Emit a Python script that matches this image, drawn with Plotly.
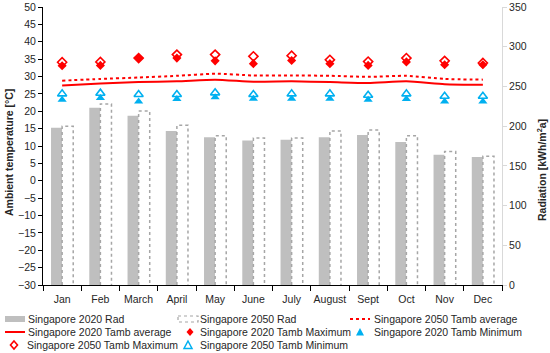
import plotly.graph_objects as go

months = ["Jan", "Feb", "March", "April", "May", "June", "July", "August", "Sept", "Oct", "Nov", "Dec"]
rad_2020 = [198, 223, 213, 194, 186, 182, 183, 186, 189, 180, 164, 161]
rad_2050 = [200, 228, 219, 201, 188, 185, 185, 194, 195, 188, 168, 162]
tavg_2020 = [27.4, 28.0, 28.4, 28.6, 29.1, 28.5, 28.6, 28.4, 28.1, 28.6, 27.8, 27.6]
tavg_2050 = [28.8, 29.3, 29.7, 30.2, 30.8, 30.3, 30.3, 30.2, 29.9, 30.2, 29.3, 29.1]
tmax_2020 = [33.1, 33.2, 35.3, 35.3, 34.5, 33.7, 34.6, 33.7, 33.2, 34.2, 33.4, 33.4]
tmax_2050 = [34.1, 34.2, 35.3, 36.3, 36.3, 35.8, 36.0, 34.8, 34.3, 35.3, 34.5, 33.9]
tmin_2020 = [23.3, 23.8, 22.8, 23.5, 24.0, 23.6, 23.6, 23.6, 23.3, 23.5, 22.8, 22.8]
tmin_2050 = [25.0, 25.2, 24.8, 24.8, 25.3, 24.8, 25.0, 25.0, 24.6, 25.0, 24.3, 24.3]

RED = "#ff0000"
BLUE = "#00b0f0"
GRAY = "#bfbfbf"
DOTGRAY = "#a6a6a6"
TXT = "#262626"
FONT = "Liberation Sans"
FS = 10.5

# plot-area geometry in pixels
L, R, T, B = 43, 502, 7, 285
W, H = R - L, B - T
FIG_W, FIG_H = 550, 353


def pxx(x):
    return (x - L) / W


def pxy(y):
    return (B - y) / H


xs = list(range(len(months)))
bw = 0.29

fig = go.Figure()

# Radiation bars (on radiation axis 'y', right side)
fig.add_trace(go.Bar(x=xs, y=rad_2020, width=bw, offset=-bw, marker=dict(color=GRAY, line=dict(width=0)),
                     name="Singapore 2020 Rad", showlegend=False, yaxis="y"))
fig.add_trace(go.Bar(x=xs, y=rad_2050, width=bw, offset=0, marker=dict(color="white", line=dict(width=0)),
                     name="Singapore 2050 Rad", showlegend=False, yaxis="y"))

# dotted outline of 2050 bars, derived from data
ox, oy = [], []
for i, v in zip(xs, rad_2050):
    ox += [i, i, i + bw, i + bw, None]
    oy += [0, v, v, 0, None]
fig.add_trace(go.Scatter(x=ox, y=oy, mode="lines", line=dict(color=DOTGRAY, width=1.5, dash="dot"),
                         showlegend=False, hoverinfo="skip", yaxis="y"))

# temperature series (on 'y2', left side)
fig.add_trace(go.Scatter(x=xs, y=tavg_2050, mode="lines", line=dict(color=RED, width=2, dash="dot", shape="spline", smoothing=0.6),
                         name="Singapore 2050 Tamb average", showlegend=False, yaxis="y2"))
fig.add_trace(go.Scatter(x=xs, y=tavg_2020, mode="lines", line=dict(color=RED, width=2, shape="spline", smoothing=0.6),
                         name="Singapore 2020 Tamb average", showlegend=False, yaxis="y2"))
fig.add_trace(go.Scatter(x=xs, y=tmax_2050, mode="markers",
                         marker=dict(symbol="diamond-open", size=7, color=RED, line=dict(width=1.6)),
                         name="Singapore 2050 Tamb Maximum", showlegend=False, yaxis="y2"))
fig.add_trace(go.Scatter(x=xs, y=tmax_2020, mode="markers",
                         marker=dict(symbol="diamond", size=7, color=RED, line=dict(width=0)),
                         name="Singapore 2020 Tamb Maximum", showlegend=False, yaxis="y2"))
fig.add_trace(go.Scatter(x=xs, y=tmin_2020, mode="markers",
                         marker=dict(symbol="triangle-up", size=8, color=BLUE, line=dict(width=0)),
                         name="Singapore 2020 Tamb Minimum", showlegend=False, yaxis="y2"))
fig.add_trace(go.Scatter(x=xs, y=tmin_2050, mode="markers",
                         marker=dict(symbol="triangle-up-open", size=8, color=BLUE, line=dict(width=1.6)),
                         name="Singapore 2050 Tamb Minimum", showlegend=False, yaxis="y2"))

# ---------- manual legend (three compact rows) ----------
legend_items = [
    ("Singapore 2020 Rad", "rect", 5, 319, 26),
    ("Singapore 2050 Rad", "rectdot", 178, 319, 198),
    ("Singapore 2050 Tamb average", "linedot", 350, 319, 372),
    ("Singapore 2020 Tamb average", "line", 5, 332, 26),
    ("Singapore 2020 Tamb Maximum", "diamond", 190, 332, 198),
    ("Singapore 2020 Tamb Minimum", "triangle", 360, 332, 372),
    ("Singapore 2050 Tamb Maximum", "diamond-open", 14, 345, 25),
    ("Singapore 2050 Tamb Minimum", "triangle-open", 188, 345, 198),
]

shapes = []
annotations = []
for text, kind, sx, sy, tx in legend_items:
    if kind in ("rect", "rectdot"):
        shapes.append(dict(type="rect", xref="paper", yref="paper",
                           x0=pxx(sx), x1=pxx(sx + 20), y0=pxy(sy - 3), y1=pxy(sy + 3),
                           fillcolor=GRAY if kind == "rect" else "white",
                           line=dict(width=0 if kind == "rect" else 1.2, color=DOTGRAY, dash="dot")))
    elif kind in ("line", "linedot"):
        shapes.append(dict(type="line", xref="paper", yref="paper",
                           x0=pxx(sx), x1=pxx(sx + 20), y0=pxy(sy), y1=pxy(sy),
                           line=dict(width=2, color=RED, dash="dot" if kind == "linedot" else "solid")))
    elif kind.startswith("diamond"):
        pts = [(sx, sy - 4), (sx + 3.5, sy), (sx, sy + 4), (sx - 3.5, sy)]
        path = "M " + " L ".join(f"{pxx(a):.5f},{pxy(b):.5f}" for a, b in pts) + " Z"
        filled = kind == "diamond"
        shapes.append(dict(type="path", xref="paper", yref="paper", path=path,
                           fillcolor=RED if filled else "rgba(0,0,0,0)",
                           line=dict(width=0 if filled else 1.6, color=RED)))
    elif kind.startswith("triangle"):
        pts = [(sx, sy - 4), (sx + 4, sy + 3.5), (sx - 4, sy + 3.5)]
        path = "M " + " L ".join(f"{pxx(a):.5f},{pxy(b):.5f}" for a, b in pts) + " Z"
        filled = kind == "triangle"
        shapes.append(dict(type="path", xref="paper", yref="paper", path=path,
                           fillcolor=BLUE if filled else "rgba(0,0,0,0)",
                           line=dict(width=0 if filled else 1.5, color=BLUE)))
    annotations.append(dict(text=text, xref="paper", yref="paper", x=pxx(tx), y=pxy(sy),
                            xanchor="left", yanchor="middle", showarrow=False,
                            font=dict(family=FONT, size=FS, color=TXT)))

# axis titles
annotations.append(dict(text="<b>Ambient temperature [°C]</b>", xref="paper", yref="paper",
                        x=pxx(9), y=pxy(153), textangle=-90, showarrow=False,
                        xanchor="center", yanchor="middle", font=dict(family=FONT, size=10.5, color=TXT)))
annotations.append(dict(text="<b>Radiation [kWh/m<sup>2</sup>a]</b>", xref="paper", yref="paper",
                        x=pxx(541), y=pxy(170), textangle=-90, showarrow=False,
                        xanchor="center", yanchor="middle", font=dict(family=FONT, size=10.5, color=TXT)))

fig.update_layout(
    width=FIG_W, height=FIG_H,
    margin=dict(l=L, r=FIG_W - R, t=T, b=FIG_H - B, autoexpand=False),
    paper_bgcolor="white", plot_bgcolor="white",
    barmode="overlay", showlegend=False,
    font=dict(family=FONT, size=FS, color=TXT),
    xaxis=dict(range=[-0.5, 11.5], tickmode="array", tickvals=xs, ticktext=months, ticks="",
               ticklabelstandoff=4,
               showline=True, linecolor="black", linewidth=1, showgrid=False, zeroline=False,
               tickfont=dict(family=FONT, size=FS, color=TXT),
               minor=dict(tickmode="linear", tick0=-0.5, dtick=1, ticks="outside", ticklen=5,
                          tickcolor="black", tickwidth=1, showgrid=False)),
    yaxis=dict(side="right", range=[0, 350], tickmode="linear", tick0=0, dtick=50,
               showline=True, linecolor="#d9d9d9", linewidth=1, ticks="outside", ticklen=4,
               tickcolor="#d9d9d9", showgrid=False, zeroline=False,
               tickfont=dict(family=FONT, size=FS, color=TXT)),
    yaxis2=dict(overlaying="y", side="left", range=[-30, 50], tickmode="linear", tick0=-30, dtick=5,
                showline=True, linecolor="black", linewidth=1, ticks="outside", ticklen=4,
                tickcolor="black", showgrid=False, zeroline=False,
                tickfont=dict(family=FONT, size=FS, color=TXT)),
    shapes=shapes,
    annotations=annotations,
)

fig.write_html("out.html", config={"displayModeBar": False},
               post_script="document.body.style.margin='0px';document.body.style.padding='0px';")
